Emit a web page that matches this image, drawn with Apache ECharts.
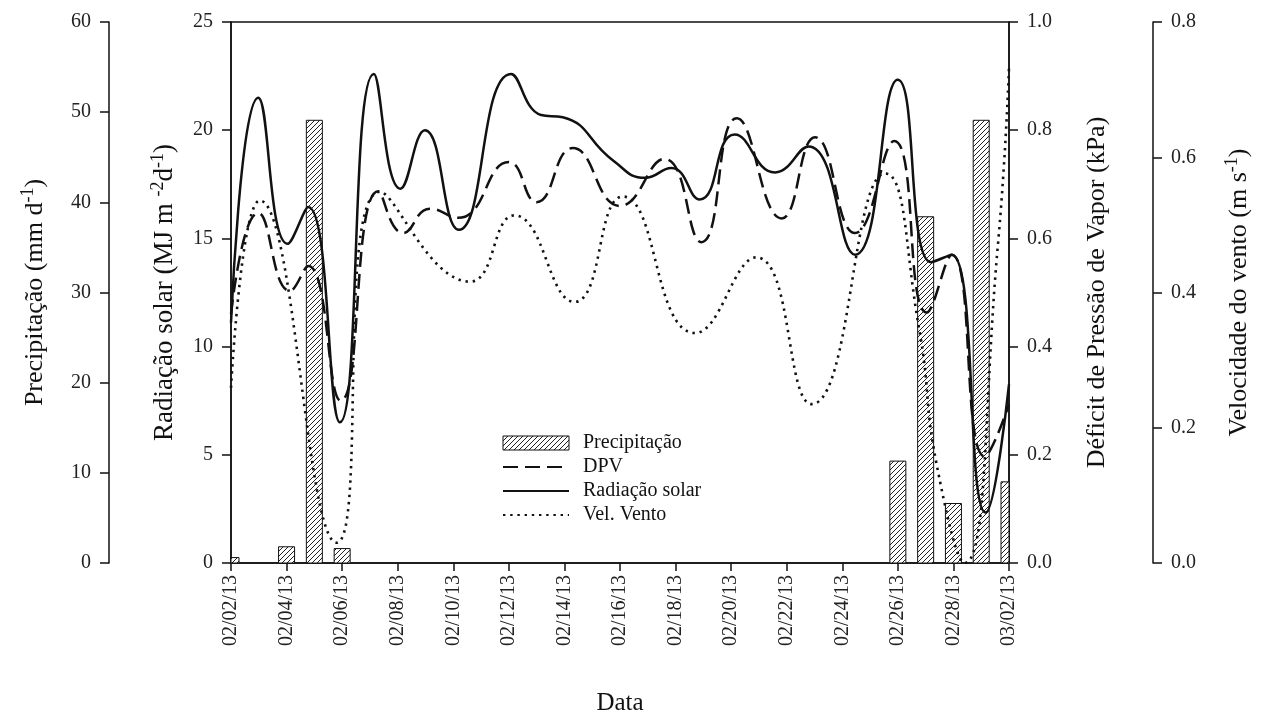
<!DOCTYPE html>
<html>
<head>
<meta charset="utf-8">
<script src="https://cdn.jsdelivr.net/npm/echarts@6/dist/echarts.min.js"></script>
<style>
html,body{margin:0;padding:0;background:#fff;}
#chart{width:1262px;height:721px;}
</style>
</head>
<body>
<div id="chart"></div>
<script>
// ---- data (x = days since 02/02/13) ----
const xTickLabels = ['02/02/13','02/04/13','02/06/13','02/08/13','02/10/13','02/12/13','02/14/13','02/16/13','02/18/13','02/20/13','02/22/13','02/24/13','02/26/13','02/28/13','03/02/13'];

const precipDays   = [0, 2, 3, 4, 24, 25, 26, 27, 28];
const precipValues = [0.6, 1.8, 49.1, 1.6, 11.3, 38.4, 6.6, 49.1, 9.0];

const radDays   = [0, 0.98, 2.04, 2.78, 3.92, 5.14, 6.1, 6.98, 8.2, 10.08, 11.16, 11.94, 13.75, 14.9, 15.85, 16.87, 18.13, 19.58, 20.78, 22.46, 24.0, 25.2, 25.94, 27.16, 28];
const radValues = [11.1, 21.5, 14.75, 16.45, 6.5, 22.6, 17.3, 20.0, 15.4, 22.6, 20.7, 20.6, 18.6, 17.8, 18.25, 16.8, 19.8, 18.05, 19.25, 14.25, 22.33, 13.9, 14.25, 2.33, 8.25];

const dpvDays   = [0, 0.98, 2.12, 2.78, 3.95, 5.3, 6.2, 7.16, 8.18, 10.0, 11.0, 12.3, 14.0, 15.6, 16.93, 18.2, 19.82, 21.02, 22.46, 23.87, 25.04, 25.94, 27.13, 28];
const dpvValues = [0.46, 0.647, 0.503, 0.549, 0.30, 0.687, 0.61, 0.655, 0.638, 0.741, 0.667, 0.767, 0.66, 0.747, 0.593, 0.822, 0.637, 0.787, 0.61, 0.78, 0.463, 0.57, 0.197, 0.293];

const ventoDays   = [0, 1.04, 3.8, 5.36, 8.6, 10.2, 12.36, 14.1, 16.7, 18.9, 20.9, 23.54, 24.75, 25.4, 26.4, 27.6, 28];
const ventoValues = [0.259, 0.536, 0.03, 0.549, 0.416, 0.514, 0.386, 0.542, 0.340, 0.452, 0.235, 0.576, 0.35, 0.145, 0.0, 0.47, 0.733];

const yTicksRad = [0, 25, 5];
const yTicksPrecip = [0, 60, 10];
const yTicksDpv = [0, 1.0, 0.2];
const yTicksVento = [0, 0.8, 0.2];

function pairs(xs, ys){ return xs.map((x,i)=>[x, ys[i]]); }

function makeHatch(){
  const c = document.createElement('canvas');
  c.width = 5; c.height = 5;
  const g = c.getContext('2d');
  g.fillStyle = '#fff'; g.fillRect(0,0,5,5);
  g.strokeStyle = '#222'; g.lineWidth = 1;
  g.beginPath();
  g.moveTo(0,5); g.lineTo(5,0);
  g.moveTo(-1,1); g.lineTo(1,-1);
  g.moveTo(4,6); g.lineTo(6,4);
  g.stroke();
  return c;
}
const hatchFill = {image: makeHatch(), repeat: 'repeat'};

const FONT = 'Liberation Serif';
const AX = '#111';

function yAxisBase(ticks, pos, offset, dec){
  return {
    type:'value', position: pos, offset: offset,
    min: ticks[0], max: ticks[1], interval: ticks[2],
    axisLine:{show:true, lineStyle:{color:AX, width:1.5}},
    axisTick:{show:true, inside:false, length:9, lineStyle:{color:AX, width:1.5}},
    axisLabel:{margin:18, color:'#222', fontFamily:FONT, fontSize:20,
      formatter: v => dec ? (Math.round(v*10)/10).toFixed(1) : String(Math.round(v))},
    splitLine:{show:false},
    nameLocation:'middle',
    nameTextStyle:{fontFamily:FONT, color:'#111',
      rich:{
        a:{fontFamily:FONT, fontSize:26, color:'#111', lineHeight:32},
        s:{fontFamily:FONT, fontSize:18, color:'#111', lineHeight:18, verticalAlign:'top'}
      }
    }
  };
}

const chart = echarts.init(document.getElementById('chart'), null, {renderer:'canvas'});

const yRad = yAxisBase(yTicksRad, 'left', 0, false);
yRad.name = '{a|Radiação solar (MJ m }{s|-2}{a|d}{s|-1}{a|)}';
yRad.nameGap = 50;
yRad.nameTextStyle.rich.a.fontSize = 27;

const yPre = yAxisBase(yTicksPrecip, 'left', 122, false);
yPre.name = '{a|Precipitação (mm d}{s|-1}{a|)}';
yPre.nameGap = 58;

const yDpv = yAxisBase(yTicksDpv, 'right', 0, true);
yDpv.name = '{a|Déficit de Pressão de Vapor (kPa)}';
yDpv.nameGap = 72;

const yVen = yAxisBase(yTicksVento, 'right', 144, true);
yVen.name = '{a|Velocidade do vento (m s}{s|-1}{a|)}';
yVen.nameGap = 70;

const option = {
  animation:false,
  backgroundColor:'#fff',
  grid:{left:231, right:253, top:22, bottom:153, show:true, borderColor:AX, borderWidth:1.5, backgroundColor:'transparent'},
  legend:{
    orient:'vertical', left:497, top:428,
    itemWidth:66, itemHeight:14, itemGap:4,
    textStyle:{fontFamily:FONT, fontSize:20, color:'#111', padding:[0,0,0,9]},
    data:[
      {name:'Precipitação', icon:'rect', itemStyle:{color:hatchFill, borderColor:'#111', borderWidth:1}},
      {name:'DPV', itemStyle:{opacity:0}},
      {name:'Radiação solar', itemStyle:{opacity:0}},
      {name:'Vel. Vento', itemStyle:{opacity:0}}
    ]
  },
  xAxis:{
    type:'value', min:0, max:28, interval:2,
    name:'Data', nameLocation:'middle', nameGap:128,
    nameTextStyle:{fontFamily:FONT, fontSize:25, color:'#111'},
    axisLine:{show:true, onZero:false, lineStyle:{color:AX, width:1.5}},
    axisTick:{show:true, inside:false, length:8, lineStyle:{color:AX, width:1.5}},
    axisLabel:{rotate:90, margin:12, fontFamily:FONT, fontSize:20, color:'#222',
      formatter: v => xTickLabels[Math.round(v/2)] || ''},
    splitLine:{show:false}
  },
  yAxis:[yRad, yPre, yDpv, yVen],
  series:[
    {
      name:'Precipitação', type:'custom', yAxisIndex:1, z:1,
      encode:{x:0, y:1},
      itemStyle:{color:hatchFill, borderColor:'#111', borderWidth:1},
      renderItem:(params, api) => {
        const day = api.value(0), val = api.value(1);
        const top = api.coord([day, val]);
        const base = api.coord([day, 0]);
        const w = 16;
        const cs = params.coordSys;
        const rect = echarts.graphic.clipRectByRect(
          {x: top[0] - w/2, y: top[1], width: w, height: base[1] - top[1]},
          {x: cs.x, y: cs.y, width: cs.width, height: cs.height});
        if (!rect) return null;
        return {type:'rect', shape: rect, style:{fill: hatchFill, stroke:'#111', lineWidth:1}};
      },
      data: pairs(precipDays, precipValues)
    },
    {
      name:'DPV', type:'line', yAxisIndex:2, smooth:0.5, symbol:'none', z:3,
      lineStyle:{color:'#111', width:2.5, type:[15,7]},
      itemStyle:{color:'#111'},
      data: pairs(dpvDays, dpvValues)
    },
    {
      name:'Radiação solar', type:'line', yAxisIndex:0, smooth:0.5, symbol:'none', z:4,
      lineStyle:{color:'#111', width:2.5, type:'solid'},
      itemStyle:{color:'#111'},
      data: pairs(radDays, radValues)
    },
    {
      name:'Vel. Vento', type:'line', yAxisIndex:3, smooth:0.5, symbol:'none', z:2,
      lineStyle:{color:'#111', width:2.6, type:[2.4,4.8], cap:'butt'},
      itemStyle:{color:'#111'},
      data: pairs(ventoDays, ventoValues)
    }
  ]
};
chart.setOption(option);
</script>
</body>
</html>
